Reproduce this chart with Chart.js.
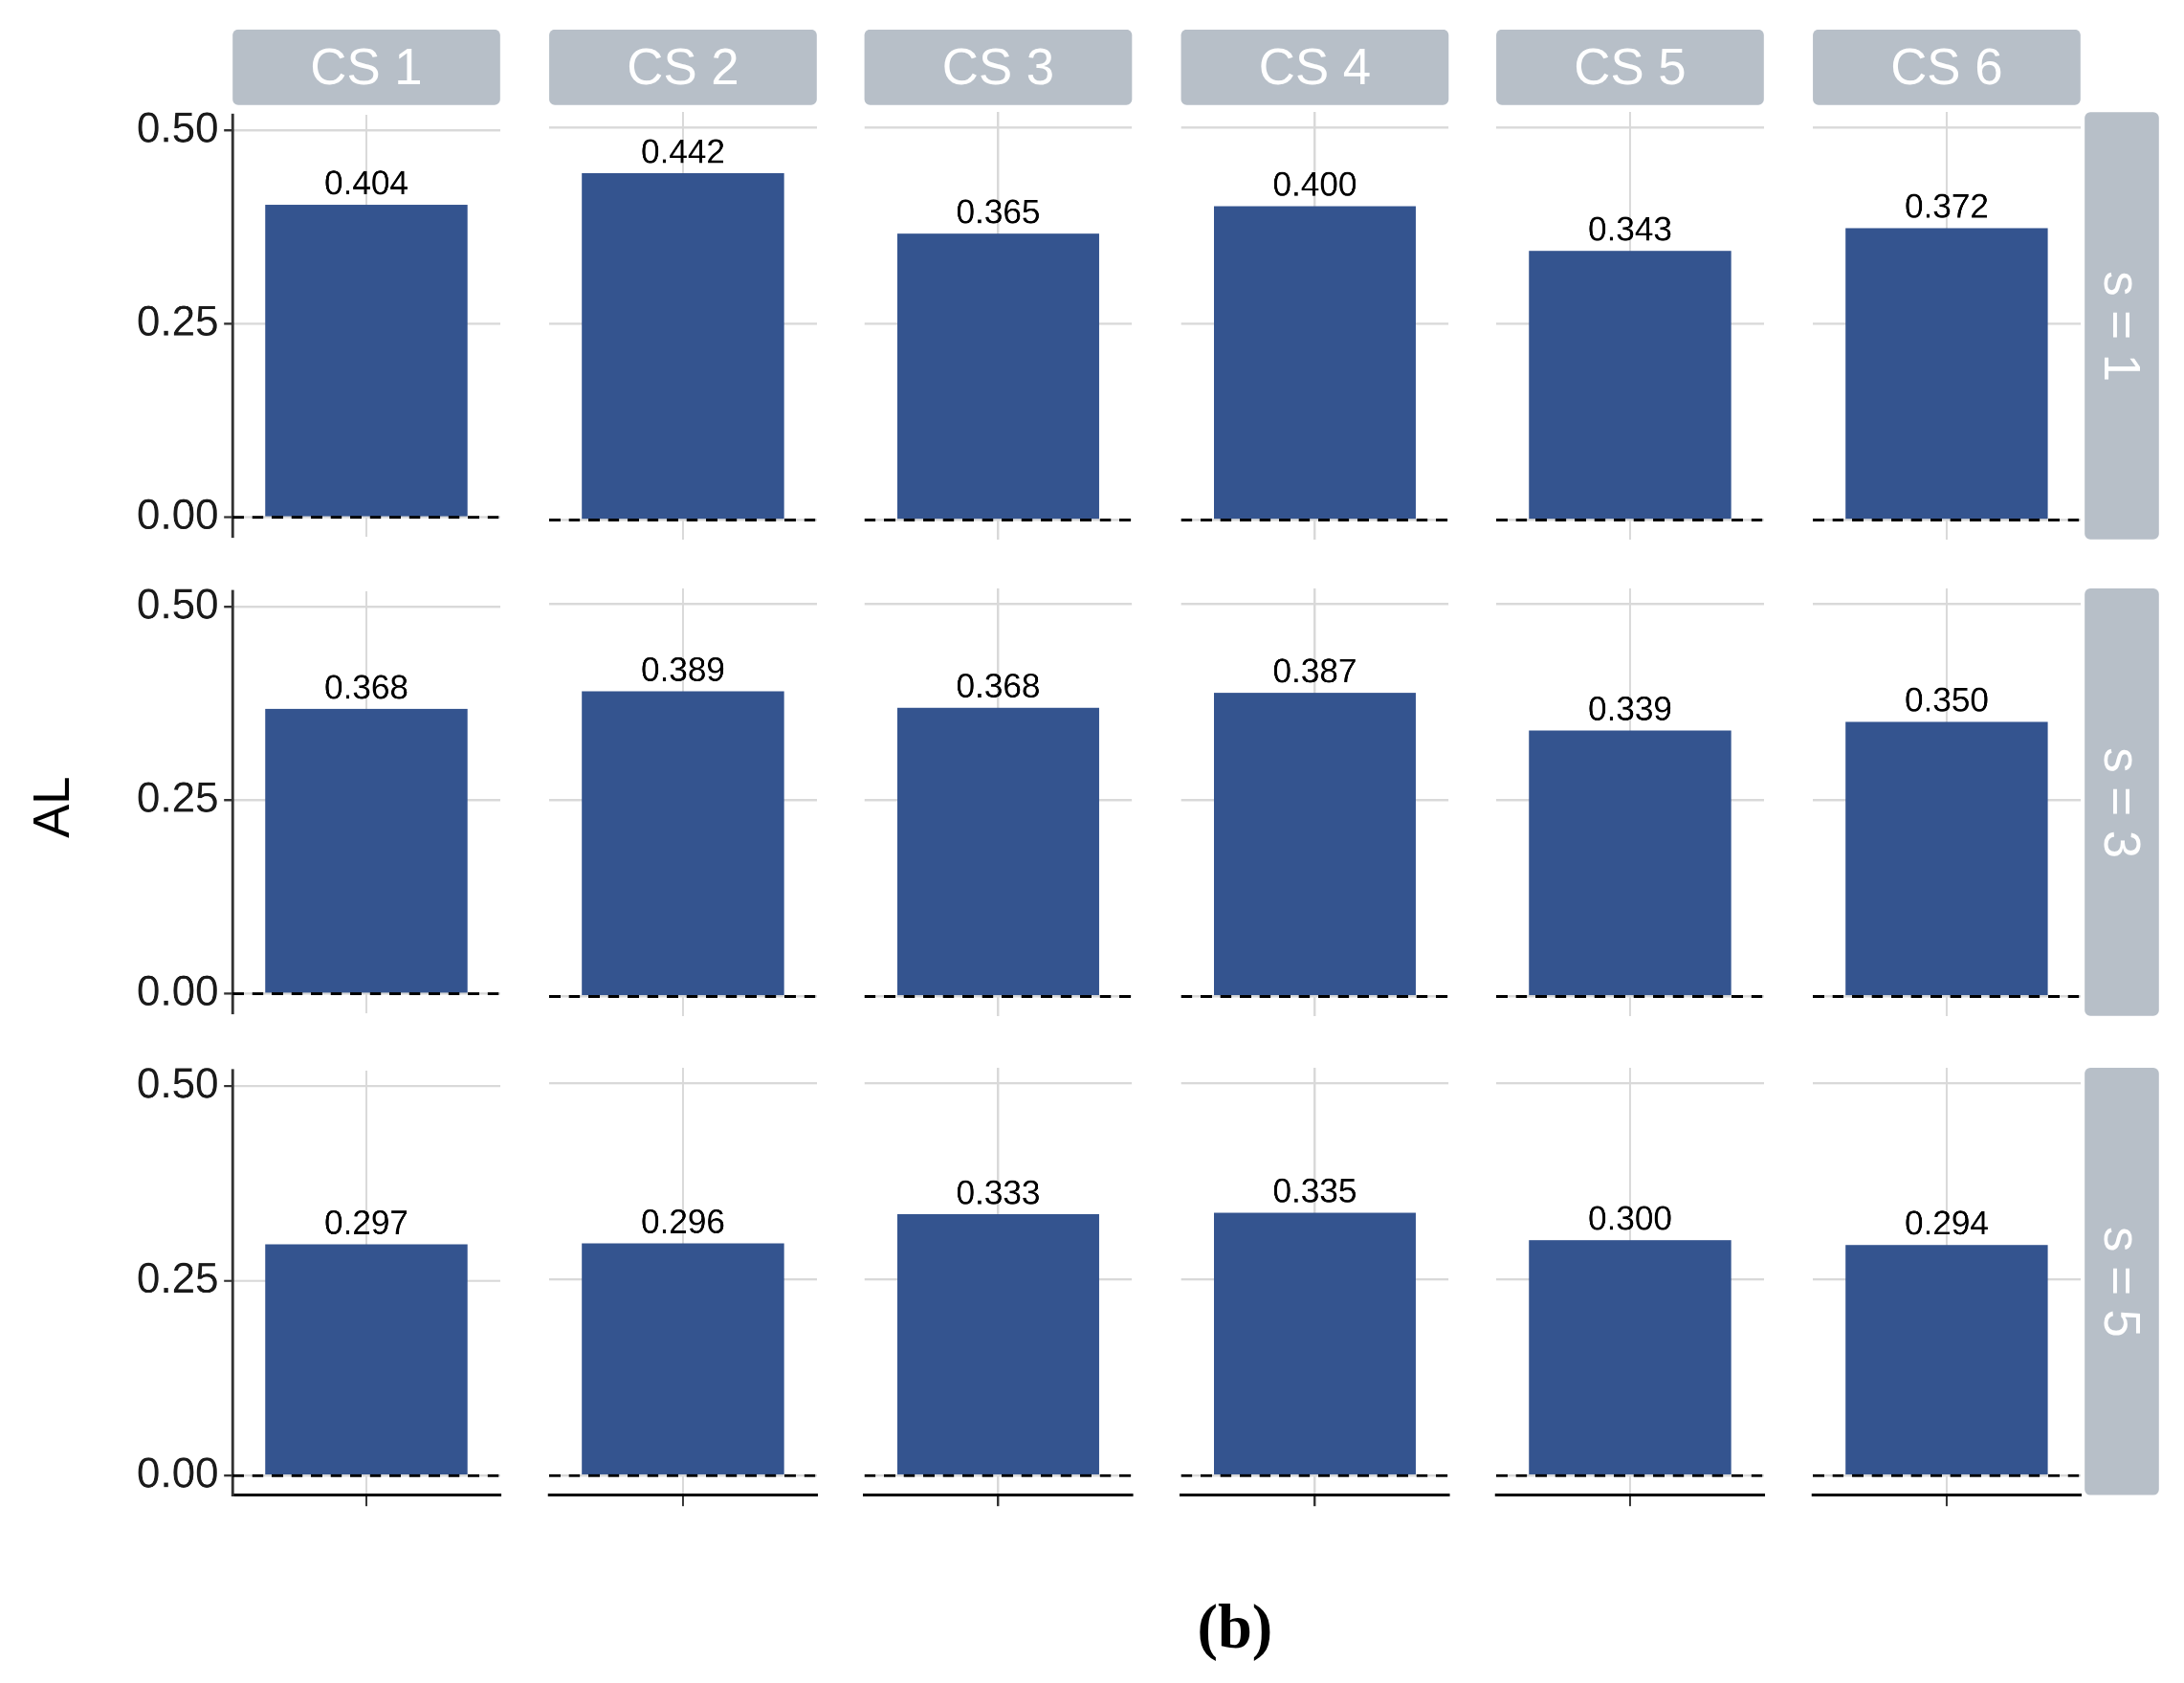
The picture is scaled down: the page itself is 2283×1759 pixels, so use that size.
<!DOCTYPE html>
<html><head><meta charset="utf-8">
<script src="https://cdn.jsdelivr.net/npm/chart.js@4"></script>
<style>
body{margin:0;background:#fff;overflow:hidden}
#wrap{position:absolute;left:0;top:0;width:1559px;height:1201px;transform:scale(1.4645);transform-origin:0 0;font-family:"Liberation Sans",Arial,sans-serif}
.strip{position:absolute;background:#b7bfc8;border-radius:4px;color:#fff;font-size:36px;display:flex;align-items:center;justify-content:center}
.rs span{transform:rotate(90deg);white-space:nowrap}
canvas{position:absolute}
</style></head><body>
<div id="wrap"></div>
<script>
// data
const categories = ['CS 1','CS 2','CS 3','CS 4','CS 5','CS 6'];
const rowLabels = ['s = 1','s = 3','s = 5'];
const valuesS1 = [0.404,0.442,0.365,0.400,0.343,0.372];
const valuesS3 = [0.368,0.389,0.368,0.387,0.339,0.350];
const valuesS5 = [0.297,0.296,0.333,0.335,0.300,0.294];
const yTicks = [0, 0.25, 0.5];
const rows = [valuesS1, valuesS3, valuesS5];

const wrap = document.getElementById('wrap');
const colX = [166,392,617,843,1068,1294], colW = 191;
const rowY = [80,420,762], rowH = 305, M = 20, AXW = 86;

// dashed zero line + value labels
const extras = {
  id:'extras',
  afterDatasetsDraw(chart){
    const ctx = chart.ctx, a = chart.chartArea, y0 = chart.scales.y.getPixelForValue(0);
    ctx.save();
    ctx.setLineDash([8,6]); ctx.strokeStyle='#000'; ctx.lineWidth=2;
    ctx.beginPath(); ctx.moveTo(a.left,y0); ctx.lineTo(a.right,y0); ctx.stroke();
    ctx.setLineDash([]);
    ctx.fillStyle='#000'; ctx.font='24px "Liberation Sans", Arial'; ctx.textAlign='center'; ctx.textBaseline='bottom';
    chart.getDatasetMeta(0).data.forEach((el,i)=>{
      ctx.fillText(chart.data.datasets[0].data[i].toFixed(3), el.x, el.y-2);
    });
    ctx.restore();
  }
};

rows.forEach((vals, r) => {
  vals.forEach((v, c) => {
    const first = c === 0, last = r === 2;
    const cv = document.createElement('canvas');
    const left = colX[c] - M - (first ? AXW : 0);
    const w = colW + 2*M + (first ? AXW : 0);
    const h = rowH + 2*M + (last ? 10 : 0);
    cv.style.left = left+'px'; cv.style.top = (rowY[r]-M)+'px';
    cv.style.width = w+'px'; cv.style.height = h+'px';
    wrap.appendChild(cv);
    new Chart(cv, {
      type:'bar',
      data:{labels:[categories[c]], datasets:[{data:[v], backgroundColor:'#34548f', barPercentage:0.755, categoryPercentage:1}]},
      options:{
        responsive:false, animation:false, devicePixelRatio:3,
        layout:{padding:M},
        plugins:{legend:{display:false}, tooltip:{enabled:false}},
        scales:{
          x:{
            grid:{offset:false, color:'#d9d9d9', lineWidth:1.5, tickColor:'#333', tickLength: last ? 8 : 0},
            border:{display:last, color:'#000', width:2},
            ticks:{display:false},
            afterFit: s => { s.height = last ? 10 : 0; }
          },
          y:{
            min:-0.025, max:0.52,
            afterBuildTicks: s => { s.ticks = yTicks.map(t => ({value:t})); },
            grid:{color:'#d9d9d9', lineWidth:1.5, tickColor:'#333', tickLength: first ? 6 : 0},
            border:{display:first, color:'#333', width:2},
            ticks:{display:first, color:'#1a1a1a', font:{size:30, family:'"Liberation Sans", Arial'}, padding:4, callback: t => t.toFixed(2)},
            afterFit: s => { s.width = first ? AXW : 0; }
          }
        }
      },
      plugins:[extras]
    });
  });
});

categories.forEach((c,i)=>{
  const d=document.createElement('div'); d.className='strip';
  Object.assign(d.style,{left:colX[i]+'px',top:'21px',width:colW+'px',height:'54px'});
  d.textContent=c; wrap.appendChild(d);
});
rowLabels.forEach((s,i)=>{
  const d=document.createElement('div'); d.className='strip rs';
  Object.assign(d.style,{left:'1488px',top:rowY[i]+'px',width:'53px',height:rowH+'px'});
  d.innerHTML='<span>'+s+'</span>'; wrap.appendChild(d);
});
const al=document.createElement('div');
Object.assign(al.style,{position:'absolute',left:'15px',top:'555px',fontSize:'36px',transform:'rotate(-90deg)'});
al.textContent='AL'; wrap.appendChild(al);
const b=document.createElement('div');
Object.assign(b.style,{position:'absolute',left:'0',width:'1763px',textAlign:'center',top:'1136px',fontSize:'44px',fontWeight:'bold',fontFamily:'"Liberation Serif","DejaVu Serif",serif'});
b.textContent='(b)'; wrap.appendChild(b);
</script>
</body></html>
